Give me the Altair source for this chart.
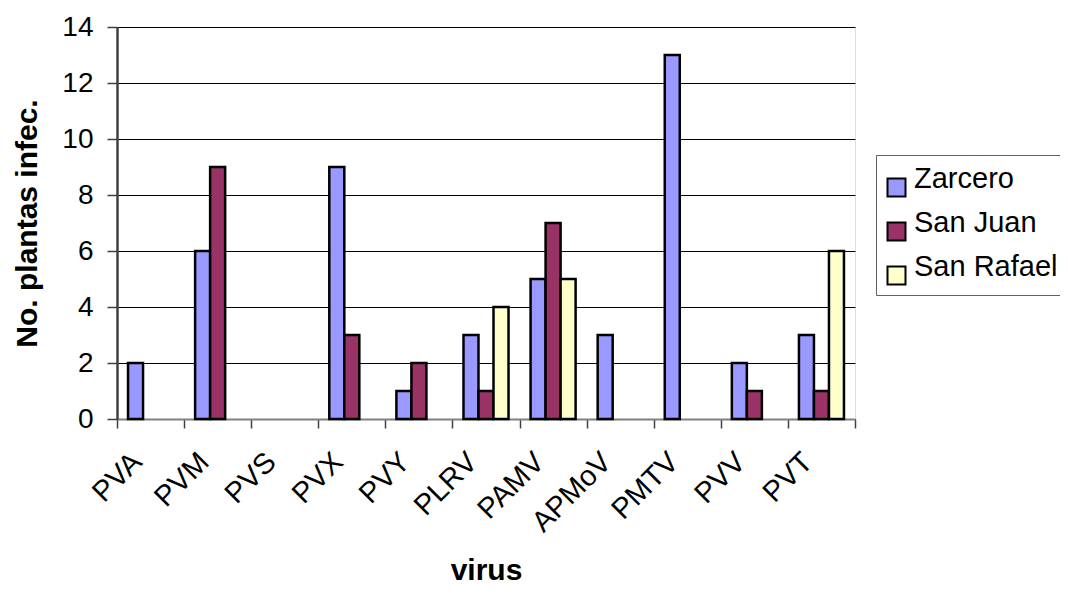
import altair as alt
import pandas as pd

viruses = ["PVA", "PVM", "PVS", "PVX", "PVY", "PLRV", "PAMV", "APMoV", "PMTV", "PVV", "PVT"]
series = ["Zarcero", "San Juan", "San Rafael"]
zarcero = [2, 6, 0, 9, 1, 3, 5, 3, 13, 2, 3]
san_juan = [0, 9, 0, 3, 2, 1, 7, 0, 0, 1, 1]
san_rafael = [0, 0, 0, 0, 0, 4, 5, 0, 0, 0, 6]
colors = ["#9999FF", "#993366", "#FFFFCC"]

rows = []
for name, vals in zip(series, [zarcero, san_juan, san_rafael]):
    for v, val in zip(viruses, vals):
        rows.append({"virus": v, "serie": name, "valor": val})
df = pd.DataFrame(rows)

FONT = "Liberation Sans"

chart = alt.Chart(df).transform_filter(
    alt.datum.valor > 0
).mark_bar(stroke="black", strokeWidth=2.5).encode(
    x=alt.X("virus:N", sort=viruses,
            scale=alt.Scale(domain=viruses, paddingInner=0, paddingOuter=0),
            axis=alt.Axis(title="virus", labelAngle=-45, labelAlign="right",
                          labelBaseline="middle", labelFontSize=29, labelFont=FONT,
                          labelColor="black", labelPadding=29, labelOffset=-14,
                          labelBound=False, labelOverlap=False, labelFlush=False,
                          tickBand="extent", tickSize=9, tickColor="#404040",
                          tickWidth=1.5, domainColor="#808080", domainWidth=2,
                          titleFont=FONT, titleFontSize=30, titleFontWeight="bold",
                          titleColor="black", titleY=160, titleBaseline="alphabetic",
                          grid=False)),
    xOffset=alt.XOffset("serie:N", sort=series,
                        scale=alt.Scale(domain=series, paddingInner=0, paddingOuter=0.735)),
    y=alt.Y("valor:Q", scale=alt.Scale(domain=[0, 14], nice=False),
            axis=alt.Axis(title="No. plantas infec.", values=[0, 2, 4, 6, 8, 10, 12, 14],
                          labelFontSize=28, labelFont=FONT, labelColor="black",
                          labelPadding=14, tickSize=10, tickColor="#404040", tickWidth=1.5,
                          domainColor="#404040", domainWidth=2.5,
                          gridColor="black", gridWidth=1,
                          titleFont=FONT, titleFontSize=30, titleFontWeight="bold",
                          titleColor="black", titleX=-90, titleY=196,
                          titleBaseline="middle", titleAlign="center")),
    color=alt.Color("serie:N", sort=series,
                    scale=alt.Scale(domain=series, range=colors),
                    legend=alt.Legend(title=" ", titleFontSize=12, titlePadding=0,
                                      orient="none", legendX=759, legendY=128,
                                      symbolType="square", symbolSize=324,
                                      symbolStrokeColor="black", symbolStrokeWidth=2,
                                      labelFontSize=29, labelFont=FONT, labelColor="black",
                                      labelBaseline="alphabetic",
                                      rowPadding=7, padding=6, strokeColor="#606060",
                                      fillColor="white", labelOffset=3, labelLimit=300)),
).properties(
    width=738, height=392,
    padding={"left": 109, "top": 19, "right": 205, "bottom": 166},
    autosize=alt.AutoSizeParams(type="none"),
).configure_view(
    fill="#FFFFCC", stroke="#808080", strokeWidth=2
).configure(background="white")

chart.save("out.html", embed_options={"renderer": "svg", "actions": False})
